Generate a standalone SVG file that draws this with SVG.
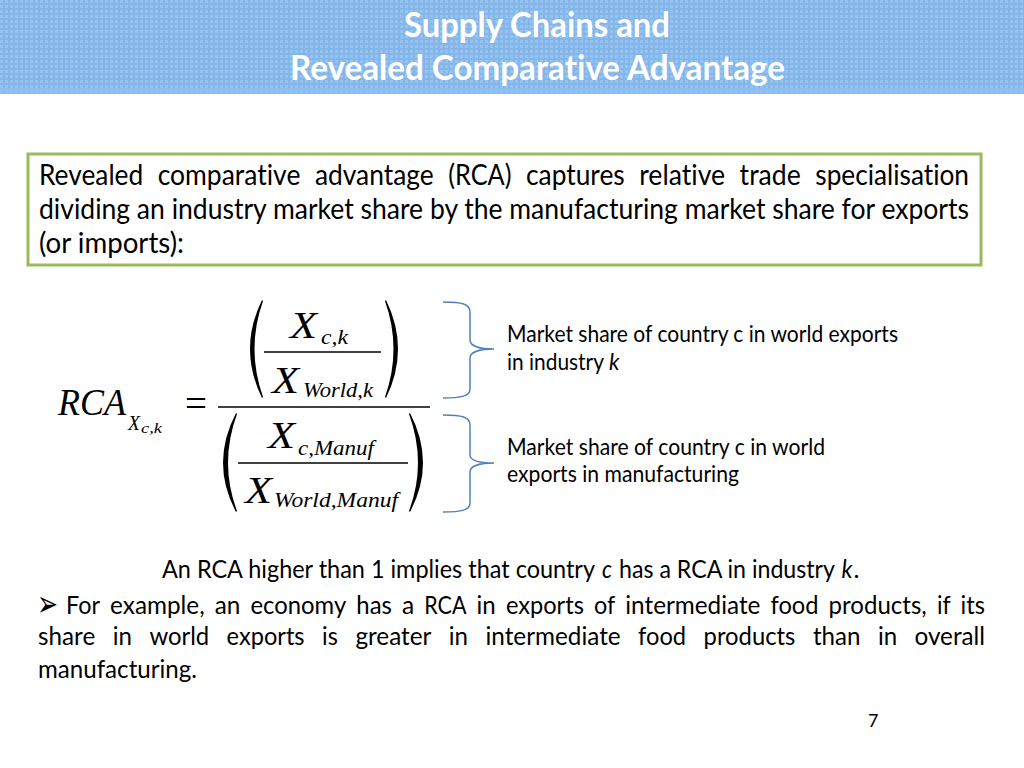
<svg xmlns="http://www.w3.org/2000/svg" width="1024" height="768" viewBox="0 0 1024 768">
<defs>
<style>
.body{font-family:Lato,"Open Sans","Liberation Sans",sans-serif;fill:#000;font-variant-ligatures:none;font-feature-settings:"liga" 0,"clig" 0;}
.b28{font-size:28px;}
.b25{font-size:25.5px;}
.lab{font-size:22.6px;}
.title{font-family:Lato,"Open Sans","Liberation Sans",sans-serif;font-weight:bold;font-size:35px;fill:#fff;font-variant-ligatures:none;font-feature-settings:"liga" 0,"clig" 0;}
.m{font-family:"Liberation Serif","Times New Roman",serif;font-style:italic;fill:#000;}
.brace{fill:none;stroke:#4f81bd;stroke-width:1.5;}
.bar{stroke:#000;stroke-width:1.4;}
.paren{fill:#000;stroke:none;}
</style>
<pattern id="dots" width="5" height="5" patternUnits="userSpaceOnUse">
<rect x="0" y="0" width="3" height="3" fill="#a6cdf5" opacity="0.55"/>
</pattern>
</defs>
<rect width="1024" height="768" fill="#fff"/>
<g id="header">
<rect x="0" y="0" width="1024" height="94" fill="#84b6ea"/>
<rect x="0" y="0" width="1024" height="94" fill="url(#dots)"/>
<rect x="0" y="88" width="1024" height="6" fill="#8fc0f2" opacity="0.7"/>
<text class="title" x="404" y="37" textLength="266" lengthAdjust="spacingAndGlyphs">Supply Chains and</text>
<text class="title" x="290" y="80" textLength="495" lengthAdjust="spacingAndGlyphs">Revealed Comparative Advantage</text>
</g>
<g id="definition-box">
<rect x="28" y="154" width="953" height="111" fill="#fff" stroke="#9bbb59" stroke-width="3"/>
<text class="body b28" y="185"><tspan x="39" textLength="104.2" lengthAdjust="spacingAndGlyphs">Revealed</tspan><tspan x="157.7" textLength="142.7" lengthAdjust="spacingAndGlyphs">comparative</tspan><tspan x="314.9" textLength="118.8" lengthAdjust="spacingAndGlyphs">advantage</tspan><tspan x="448.2" textLength="63.3" lengthAdjust="spacingAndGlyphs">(RCA)</tspan><tspan x="526" textLength="98.7" lengthAdjust="spacingAndGlyphs">captures</tspan><tspan x="639.2" textLength="85.9" lengthAdjust="spacingAndGlyphs">relative</tspan><tspan x="739.6" textLength="61.2" lengthAdjust="spacingAndGlyphs">trade</tspan><tspan x="815.3" textLength="153.7" lengthAdjust="spacingAndGlyphs">specialisation</tspan></text>
<text class="body b28" x="39" y="219" textLength="930" lengthAdjust="spacingAndGlyphs">dividing an industry market share by the manufacturing market share for exports</text>
<text class="body b28" x="39" y="253" textLength="145" lengthAdjust="spacingAndGlyphs">(or imports):</text>
</g>
<g id="formula">
<text class="m" x="58" y="415" font-size="37" textLength="68" lengthAdjust="spacingAndGlyphs">RCA</text>
<text class="m" x="128" y="430" font-size="21" textLength="12" lengthAdjust="spacingAndGlyphs">X</text>
<text class="m" x="141" y="433" font-size="14" textLength="21" lengthAdjust="spacingAndGlyphs">c,k</text>
<text x="185" y="416" font-family="'Liberation Serif',serif" font-size="37" textLength="22" lengthAdjust="spacingAndGlyphs">=</text>
<line class="bar" x1="218" y1="407" x2="430" y2="407"/>
<path class="paren" d="M262,300 Q238,349 262,398 L263,397 Q246,349 263,301 Z"/>
<path class="paren" d="M386,300 Q410,349 386,398 L385,397 Q402,349 385,301 Z"/>
<text class="m" x="290" y="338" font-size="37" textLength="27" lengthAdjust="spacingAndGlyphs">X</text>
<text class="m" x="321" y="344" font-size="20" textLength="27" lengthAdjust="spacingAndGlyphs">c,k</text>
<line class="bar" x1="264" y1="352" x2="381" y2="352" stroke-width="1"/>
<text class="m" x="272" y="393" font-size="37" textLength="27" lengthAdjust="spacingAndGlyphs">X</text>
<text class="m" x="303" y="397" font-size="20" textLength="70" lengthAdjust="spacingAndGlyphs">World,k</text>
<path class="paren" d="M236,413 Q210,463 236,512 L237,511 Q219,463 237,414 Z"/>
<path class="paren" d="M410,413 Q436,463 410,512 L409,511 Q427,463 409,414 Z"/>
<text class="m" x="268" y="448" font-size="37" textLength="27" lengthAdjust="spacingAndGlyphs">X</text>
<text class="m" x="298" y="455" font-size="20" textLength="76" lengthAdjust="spacingAndGlyphs">c,Manuf</text>
<line class="bar" x1="238" y1="463" x2="408" y2="463" stroke-width="1"/>
<text class="m" x="245" y="503" font-size="37" textLength="27" lengthAdjust="spacingAndGlyphs">X</text>
<text class="m" x="274" y="507" font-size="20" textLength="124" lengthAdjust="spacingAndGlyphs">World,Manuf</text>
</g>
<g id="connectors">
<path class="brace" d="M443,302 C462,302 470,304 470,312 L470,340 C470,346 480,349 494,349 C480,349 470,352 470,358 L470,389 C470,396 462,398 443,398"/>
<path class="brace" d="M443,415 C462,415 470,417 470,425 L470,455 C470,461 480,463 494,463 C480,463 470,466 470,472 L470,503 C470,510 462,512 443,512"/>
</g>
<g id="label-industry">
<text class="body lab" x="507" y="342" textLength="391" lengthAdjust="spacingAndGlyphs">Market share of country c in world exports</text>
<text class="body lab" y="370"><tspan x="507" textLength="97" lengthAdjust="spacingAndGlyphs">in industry</tspan><tspan x="609" font-style="italic" textLength="10.5" lengthAdjust="spacingAndGlyphs">k</tspan></text>
</g>
<g id="label-manufacturing">
<text class="body lab" x="507" y="455" textLength="318" lengthAdjust="spacingAndGlyphs">Market share of country c in world</text>
<text class="body lab" x="507" y="482" textLength="232" lengthAdjust="spacingAndGlyphs">exports in manufacturing</text>
</g>
<g id="explanation">
<text class="body b25" y="578"><tspan x="162" textLength="433" lengthAdjust="spacingAndGlyphs">An RCA higher than 1 implies that country</tspan><tspan x="602" font-style="italic" textLength="10" lengthAdjust="spacingAndGlyphs">c</tspan><tspan x="619" textLength="216" lengthAdjust="spacingAndGlyphs">has a RCA in industry</tspan><tspan x="841.5" font-style="italic" textLength="11" lengthAdjust="spacingAndGlyphs">k</tspan><tspan x="853.5" textLength="6" lengthAdjust="spacingAndGlyphs">.</tspan></text>
<text x="37" y="616" font-family="'DejaVu Sans',sans-serif" font-size="36" textLength="21" lengthAdjust="spacingAndGlyphs">➢</text>
<text class="body b25" y="614"><tspan x="66" textLength="34" lengthAdjust="spacingAndGlyphs">For</tspan><tspan x="110.1" textLength="94.6" lengthAdjust="spacingAndGlyphs">example,</tspan><tspan x="214.8" textLength="25.6" lengthAdjust="spacingAndGlyphs">an</tspan><tspan x="250.5" textLength="95.7" lengthAdjust="spacingAndGlyphs">economy</tspan><tspan x="356.3" textLength="35.6" lengthAdjust="spacingAndGlyphs">has</tspan><tspan x="402" textLength="12.2" lengthAdjust="spacingAndGlyphs">a</tspan><tspan x="424.3" textLength="42.2" lengthAdjust="spacingAndGlyphs">RCA</tspan><tspan x="476.6" textLength="19.2" lengthAdjust="spacingAndGlyphs">in</tspan><tspan x="505.9" textLength="78" lengthAdjust="spacingAndGlyphs">exports</tspan><tspan x="594" textLength="21.2" lengthAdjust="spacingAndGlyphs">of</tspan><tspan x="625.3" textLength="135.1" lengthAdjust="spacingAndGlyphs">intermediate</tspan><tspan x="770.5" textLength="48" lengthAdjust="spacingAndGlyphs">food</tspan><tspan x="828.6" textLength="98.2" lengthAdjust="spacingAndGlyphs">products,</tspan><tspan x="936.9" textLength="13.6" lengthAdjust="spacingAndGlyphs">if</tspan><tspan x="960.6" textLength="24.4" lengthAdjust="spacingAndGlyphs">its</tspan></text>
<text class="body b25" y="645"><tspan x="38" textLength="57.2" lengthAdjust="spacingAndGlyphs">share</tspan><tspan x="112.7" textLength="19.2" lengthAdjust="spacingAndGlyphs">in</tspan><tspan x="149.4" textLength="59.8" lengthAdjust="spacingAndGlyphs">world</tspan><tspan x="226.6" textLength="78" lengthAdjust="spacingAndGlyphs">exports</tspan><tspan x="322.1" textLength="15.8" lengthAdjust="spacingAndGlyphs">is</tspan><tspan x="355.4" textLength="76" lengthAdjust="spacingAndGlyphs">greater</tspan><tspan x="448.8" textLength="19.2" lengthAdjust="spacingAndGlyphs">in</tspan><tspan x="485.5" textLength="135.1" lengthAdjust="spacingAndGlyphs">intermediate</tspan><tspan x="638.1" textLength="48" lengthAdjust="spacingAndGlyphs">food</tspan><tspan x="703.6" textLength="91.8" lengthAdjust="spacingAndGlyphs">products</tspan><tspan x="812.9" textLength="47.5" lengthAdjust="spacingAndGlyphs">than</tspan><tspan x="877.9" textLength="19.2" lengthAdjust="spacingAndGlyphs">in</tspan><tspan x="914.5" textLength="70.5" lengthAdjust="spacingAndGlyphs">overall</tspan></text>
<text class="body b25" x="38" y="678" textLength="159" lengthAdjust="spacingAndGlyphs">manufacturing.</text>
</g>
<g id="page-number">
<text class="body" x="868" y="727" font-size="18">7</text>
</g>
</svg>
